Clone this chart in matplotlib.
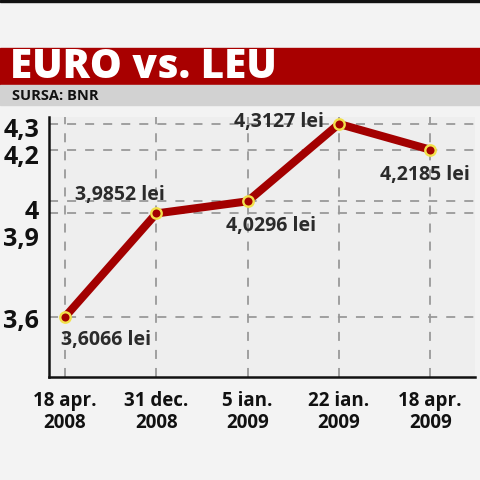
import matplotlib.pyplot as plt
from matplotlib.patches import Rectangle

# data
dates = ["18 apr.\n2008", "31 dec.\n2008", "5 ian.\n2009", "22 ian.\n2009", "18 apr.\n2009"]
rates = [3.6066, 3.9852, 4.0296, 4.3127, 4.2185]
ytick_vals = [3.6, 3.9, 4.0, 4.2, 4.3]
ytick_labels = ["3,6", "3,9", "4", "4,2", "4,3"]

# label offsets in pixels (dx, dy) from each point
offsets = [(41, -23), (-36, 18), (23, -25), (-60, 2), (-5, -25)]

plt.rcParams['font.family'] = ['Open Sans', 'DejaVu Sans']

fig = plt.figure(figsize=(4.8, 4.8), dpi=100)
fig.patch.set_facecolor('#f3f3f3')

# header bars
fig.patches.append(Rectangle((0, 1 - 2/480), 1, 2/480, transform=fig.transFigure, color='#111111', zorder=0))
fig.patches.append(Rectangle((0, 1 - 85/480), 1, 37/480, transform=fig.transFigure, color='#a80000', zorder=0))
fig.patches.append(Rectangle((0, 1 - 105/480), 1, 20/480, transform=fig.transFigure, color='#d2d2d2', zorder=0))
fig.text(10/480, 1 - 68/480, "EURO vs. LEU", color='white', fontsize=29, fontweight='heavy',
         va='center', ha='left')
fig.text(12/480, 1 - 96/480, "SURSA: BNR", color='#111111', fontsize=10.5, fontweight='bold',
         va='center', ha='left')

ax = fig.add_axes([49/480, 103/480, 426/480, 260/480])
ax.set_facecolor('#eeeeee')

x = list(range(len(rates)))
ax.set_xlim(-0.175, 4.49)
ax.set_ylim(3.387, 4.338)

# dashed grid through each point
for xi, v in zip(x, rates):
    ax.axhline(v, color='#999999', lw=1.3, ls=(0, (5, 5)), zorder=1)
    ax.axvline(xi, color='#999999', lw=1.3, ls=(0, (5, 5)), zorder=1)

ax.plot(x, rates, color='#a30000', lw=5.8, solid_capstyle='round', zorder=3)
ax.plot(x, rates, 'o', ms=7.5, mfc='#a30000', mec='#f2e04a', mew=1.7, zorder=4)

for xi, v, (dx, dy) in zip(x, rates, offsets):
    txt = f"{v:.4f}".replace('.', ',') + " lei"
    ax.annotate(txt, (xi, v), xytext=(dx * 0.72, dy * 0.72), textcoords='offset points',
                ha='center', va='center', fontsize=14, fontweight='bold', color='#2b2b2b', zorder=5)

ax.set_xticks(x)
ax.set_xticklabels(dates, fontsize=13.5, fontweight='bold', linespacing=1.15, color='#111111')
ax.set_yticks(ytick_vals)
ax.set_yticklabels(ytick_labels, fontsize=18, fontweight='bold', color='#111111')
ax.tick_params(axis='x', length=0, pad=10)
ax.tick_params(axis='y', length=0, pad=7)

for s in ['top', 'right']:
    ax.spines[s].set_visible(False)
for s in ['left', 'bottom']:
    ax.spines[s].set_linewidth(1.8)
    ax.spines[s].set_color('#111111')

fig.savefig('out.png', dpi=100, facecolor=fig.get_facecolor())
